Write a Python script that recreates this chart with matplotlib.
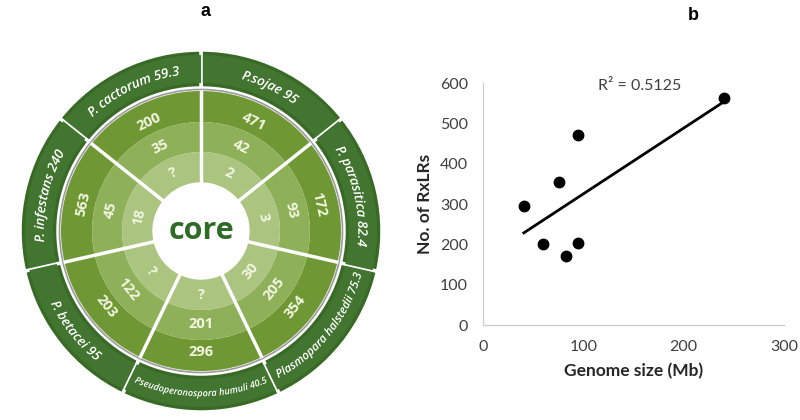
import numpy as np
import matplotlib
matplotlib.use("Agg")
import matplotlib.pyplot as plt
from matplotlib.patches import Wedge, Circle, PathPatch
from matplotlib.font_manager import FontProperties
from matplotlib.textpath import TextPath
from matplotlib.path import Path

# sectors, counter-clockwise starting right of the top
species = ["P.sojae", "P. cactorum", "P. infestans", "P. betacei",
           "Pseudoperonospora humuli", "Plasmopara halstedii", "P. parasitica"]
genome_labels = ["95", "59.3", "240", "95", "40.5", "75.3", "82.4"]
genome_size = [95, 59.3, 240, 95, 40.5, 75.3, 82.4]
rxlr_total = [471, 200, 563, 203, 296, 354, 172]
rxlr_shared = [42, 35, 45, 122, 201, 205, 93]
rxlr_inner = ["2", "?", "18", "?", "?", "30", "3"]
r2_text = "R\u00b2 = 0.5125"

DPI = 100
fig = plt.figure(figsize=(8, 4.2), dpi=DPI)

# ---- panel a : ring diagram, 1 data unit = 1 pixel ----
ax = fig.add_axes([0, 0, 0.5, 1])
ax.set_xlim(-201, 199)
ax.set_ylim(-189, 231)
ax.axis("off")

c_outer = "#386a26"
c_ring3 = "#6f9834"
c_ring2 = "#8eb058"
c_ring1 = "#abc480"
txt_col = "#f3f6e2"

n = len(species)
step = 360.0 / n
start = 90 - step

label_prop = FontProperties(family="Open Sans", style="italic", weight="semibold", size=9.5)
MAX_LABEL = 137  # px of arc a label may use


def arc_text(text, r, mid, prop, flip, color):
    # bend a text path along a circle of radius r, centred on angle mid
    px = DPI / 72
    tp = TextPath((0, 0), text, prop=prop)
    ext = tp.get_extents()
    scale = px * min(1.0, MAX_LABEL / (ext.width * px))
    v = tp.vertices * scale
    xc = (ext.x0 + ext.x1) / 2 * scale
    h = prop.get_size_in_points() * scale * 0.72
    m = np.radians(mid)
    if flip:
        rb = r + h / 2
        ang = m + (v[:, 0] - xc) / rb
        rad = rb - v[:, 1]
    else:
        rb = r - h / 2
        ang = m - (v[:, 0] - xc) / rb
        rad = rb + v[:, 1]
    nv = np.column_stack([rad * np.cos(ang), rad * np.sin(ang)])
    ax.add_patch(PathPatch(Path(nv, tp.codes), fc=color, ec="none", lw=0))


for i in range(n):
    t1 = start + i * step
    t2 = t1 + step
    mid = (t1 + t2) / 2
    ax.add_patch(Wedge((0, 0), 181, t1, t2, width=38, fc=c_outer, ec="white", lw=2.5))
    ax.add_patch(Wedge((0, 0), 176, t1, t2, width=28, fc="#427630", ec="none"))
    ax.add_patch(Wedge((0, 0), 140, t1, t2, width=31, fc=c_ring3, ec="none"))
    ax.add_patch(Wedge((0, 0), 109, t1, t2, width=30, fc=c_ring2, ec="none"))
    ax.add_patch(Wedge((0, 0), 79, t1, t2, width=31, fc=c_ring1, ec="none"))

    lower = np.sin(np.radians(mid)) < 0
    rot = mid + 90 if lower else mid - 90
    for r, val in [(121, rxlr_total[i]), (93, rxlr_shared[i]), (64, rxlr_inner[i])]:
        ax.text(r * np.cos(np.radians(mid)), r * np.sin(np.radians(mid)), str(val),
                color=txt_col, fontsize=10.5, fontweight="bold", family="Open Sans",
                rotation=rot, rotation_mode="anchor", ha="center", va="center")

    label = species[i] + " " + genome_labels[i]
    arc_text(label, 162, mid, label_prop, lower or mid < 30, "white")

# sector dividers through the rings
for i in range(n):
    a = np.radians(start + i * step)
    ax.plot([46 * np.cos(a), 141 * np.cos(a)], [46 * np.sin(a), 141 * np.sin(a)],
            color="white", lw=2.5, solid_capstyle="butt")
ax.add_patch(Circle((0, 0), 141.5, fc="none", ec="#9a9a9a", lw=1.2))
ax.add_patch(Circle((0, 0), 48, fc="white", ec="white", lw=1))
ax.text(0, 0, "core", color="#2f6b26", fontsize=22, fontweight="bold",
        family="Open Sans", ha="center", va="center")
ax.text(4, 219, "a", fontsize=13, fontweight="bold", family="Liberation Sans",
        ha="center", va="center")

# ---- panel b : scatter ----
plt.rcParams["font.family"] = ["Lato", "DejaVu Sans"]
bx = fig.add_axes([0.604, 0.226, 0.376, 0.576])
x = np.array(genome_size)
y = np.array(rxlr_total)
bx.plot(x, y, "o", color="black", ms=7.5)
k, b = np.polyfit(x, y, 1)
xs = np.array([x.min(), x.max()])
bx.plot(xs, k * xs + b, color="black", lw=2)
bx.text(156, 593, r2_text, ha="center", va="center", fontsize=11.5, color="#404040")
bx.set_xlim(0, 300)
bx.set_ylim(0, 600)
bx.set_xticks([0, 100, 200, 300])
bx.set_yticks(range(0, 601, 100))
for s in ["top", "right"]:
    bx.spines[s].set_visible(False)
for s in ["left", "bottom"]:
    bx.spines[s].set_color("#c8c8c8")
bx.tick_params(length=0, pad=11, labelsize=11.5, labelcolor="#404040")
bx.set_xlabel("Genome size (Mb)", fontsize=12.5, fontweight="bold", color="#262626", labelpad=6)
bx.set_ylabel("No. of RxLRs", fontsize=12.5, fontweight="bold", color="#262626", labelpad=5)
fig.text(693 / 800, 1 - 15 / 420, "b", fontsize=13, fontweight="bold",
         family="Liberation Sans", ha="center", va="center")

fig.savefig("out.png", dpi=DPI)
